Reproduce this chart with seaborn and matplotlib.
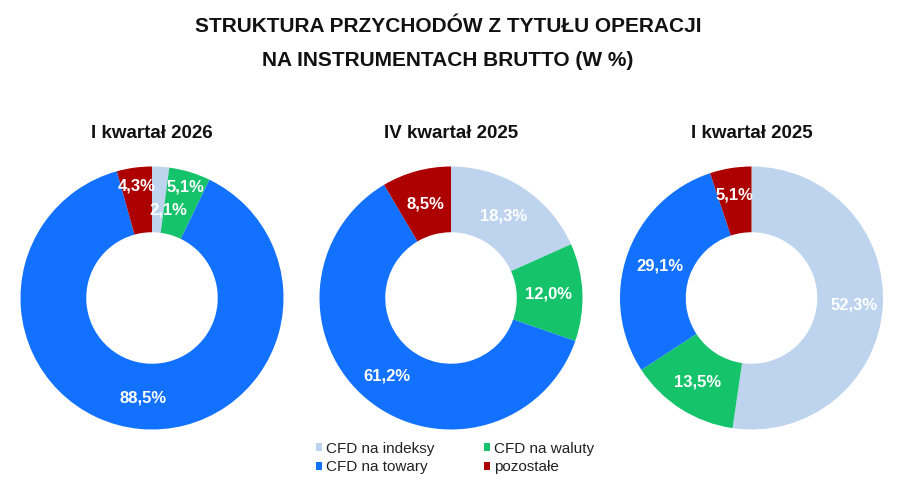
import matplotlib
matplotlib.use("Agg")
import matplotlib.pyplot as plt
import seaborn as sns
import numpy as np

# ---- data ----
categories = ["CFD na indeksy", "CFD na waluty", "CFD na towary", "pozostałe"]
periods = ["I kwartał 2026", "IV kwartał 2025", "I kwartał 2025"]
q1_2026 = [2.1, 5.1, 88.5, 4.3]
q4_2025 = [18.3, 12.0, 61.2, 8.5]
q1_2025 = [52.3, 13.5, 29.1, 5.1]
title_lines = ["STRUKTURA PRZYCHODÓW Z TYTUŁU OPERACJI", "NA INSTRUMENTACH BRUTTO (W %)"]

# ---- style ----
sns.set_theme(style="white")
plt.rcParams["font.family"] = ["Liberation Sans", "DejaVu Sans"]
palette = sns.color_palette(["#BDD3EE", "#15C36B", "#1271FE", "#AD0000"])

W, H = 898, 486
fig = plt.figure(figsize=(W / 100, H / 100), dpi=100)
fig.patch.set_facecolor("white")

centers_px = [(152, 298), (451, 298), (751.5, 298)]
R = 131.5
label_r = [[0.68, 0.88, 0.76, 0.86],
           [0.74, 0.74, 0.77, 0.74],
           [0.78, 0.76, 0.74, 0.79]]
label_dang = [[6.5, 0, 0, 0], [0, 0, 0, 0], [0, 0, 0, 0]]

series = [q1_2026, q4_2025, q1_2025]
first_wedges = None
for k, (vals, (cx, cy)) in enumerate(zip(series, centers_px)):
    ax = fig.add_axes([(cx - R) / W, (H - cy - R) / H, 2 * R / W, 2 * R / H])
    wedges, _ = ax.pie(vals, colors=palette, startangle=90, counterclock=False,
                       radius=1.0, wedgeprops=dict(width=0.5, linewidth=0))
    ax.set_xlim(-1, 1)
    ax.set_ylim(-1, 1)
    ax.set_aspect("equal")
    ax.axis("off")
    if first_wedges is None:
        first_wedges = wedges
    for i, w in enumerate(wedges):
        mid = np.deg2rad((w.theta1 + w.theta2) / 2 - label_dang[k][i])
        r = label_r[k][i]
        ax.text(r * np.cos(mid), r * np.sin(mid), f"{vals[i]:.1f}".replace(".", ",") + "%",
                ha="center", va="center", color="white", fontsize=12, fontweight="bold")
    fig.text(cx / W, 1 - 134 / H, periods[k], ha="center", va="center",
             fontsize=13.5, fontweight="bold", color="#111111")

fig.text(448 / W, 1 - 27 / H, title_lines[0], ha="center", va="center",
         fontsize=15, fontweight="bold", color="#111111")
fig.text(448 / W, 1 - 60 / H, title_lines[1], ha="center", va="center",
         fontsize=15, fontweight="bold", color="#111111")

order = [0, 2, 1, 3]
leg = fig.legend([first_wedges[i] for i in order], [categories[i] for i in order],
                 ncol=2, loc="center", bbox_to_anchor=(455 / W, 1 - 458 / H),
                 frameon=False, fontsize=11, handlelength=0.42, handleheight=0.42,
                 handletextpad=0.25, columnspacing=3.2, labelspacing=0.3)
for t in leg.get_texts():
    t.set_color("#222222")

fig.savefig("out.png", dpi=100, facecolor="white")
